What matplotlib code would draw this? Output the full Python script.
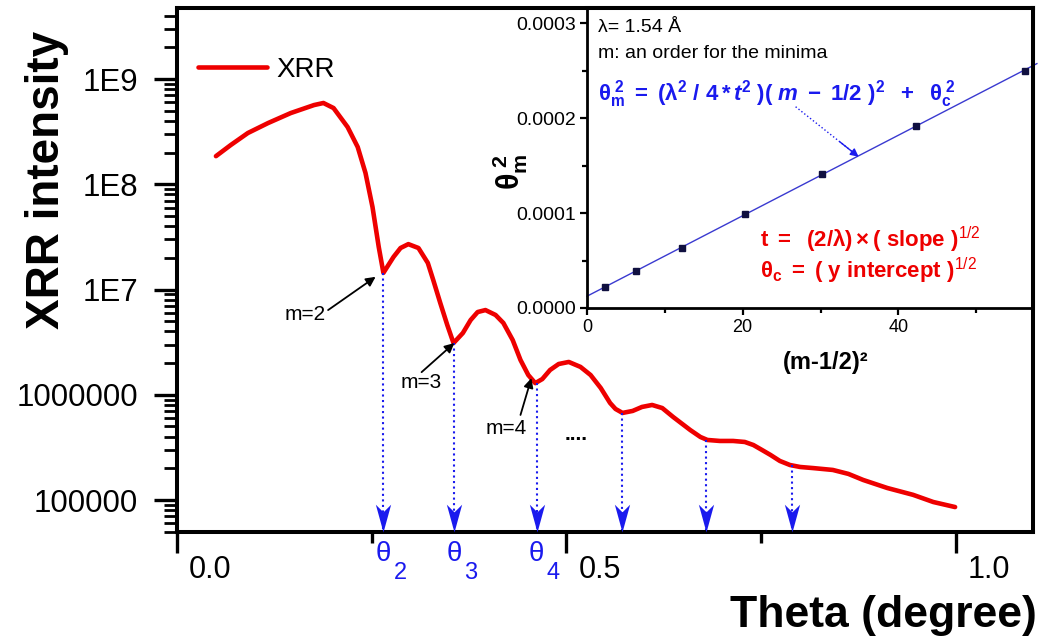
import numpy as np
import matplotlib
matplotlib.use('Agg')
import matplotlib.pyplot as plt
from matplotlib.path import Path
from matplotlib.ticker import MultipleLocator, NullFormatter, FormatStrFormatter
from matplotlib.transforms import ScaledTranslation, offset_copy

plt.rcParams['font.family'] = ['Liberation Sans', 'DejaVu Sans']
plt.rcParams['mathtext.fontset'] = 'custom'
plt.rcParams['mathtext.rm'] = 'Liberation Sans'
plt.rcParams['mathtext.it'] = 'Liberation Sans:italic'
plt.rcParams['mathtext.bf'] = 'Liberation Sans:bold'
plt.rcParams['mathtext.bfit'] = 'Liberation Sans:italic:bold'

# XRR curve
theta = [0.050, 0.069, 0.091, 0.117, 0.146, 0.176, 0.188, 0.201, 0.219, 0.232,
         0.242, 0.251, 0.259, 0.265, 0.278, 0.287, 0.297, 0.310, 0.322, 0.329,
         0.338, 0.347, 0.355, 0.367, 0.377, 0.386, 0.396, 0.409, 0.419, 0.431,
         0.441, 0.451, 0.460, 0.469, 0.479, 0.490, 0.503, 0.518, 0.531, 0.544,
         0.556, 0.563, 0.572, 0.585, 0.597, 0.610, 0.623, 0.637, 0.659, 0.672,
         0.681, 0.697, 0.714, 0.729, 0.740, 0.751, 0.762, 0.774, 0.787, 0.800,
         0.817, 0.842, 0.862, 0.881, 0.912, 0.945, 0.971, 0.999]
intensity = [1.85e8, 2.36e8, 3.07e8, 3.82e8, 4.75e8, 5.66e8, 5.92e8, 5.30e8, 3.50e8, 2.26e8,
             1.28e8, 6.08e7, 2.54e7, 1.44e7, 2.04e7, 2.48e7, 2.70e7, 2.48e7, 1.79e7, 1.23e7,
             7.45e6, 4.60e6, 3.10e6, 3.86e6, 5.13e6, 6.11e6, 6.38e6, 5.73e6, 4.81e6, 3.31e6,
             2.14e6, 1.54e6, 1.29e6, 1.41e6, 1.72e6, 1.96e6, 2.05e6, 1.84e6, 1.54e6, 1.16e6,
             8.36e5, 7.33e5, 6.72e5, 7.02e5, 7.66e5, 8.00e5, 7.48e5, 6.15e5, 4.62e5, 3.97e5,
             3.72e5, 3.64e5, 3.64e5, 3.56e5, 3.33e5, 2.99e5, 2.68e5, 2.35e5, 2.15e5, 2.06e5,
             2.01e5, 1.93e5, 1.77e5, 1.55e5, 1.30e5, 1.12e5, 9.57e4, 8.57e4]

# minima of the fringes
min_theta = [0.265, 0.356, 0.462, 0.571, 0.679, 0.790]
min_int = [1.44e7, 3.10e6, 1.29e6, 6.72e5, 3.72e5, 2.15e5]
min_orders = ['2', '3', '4']

# order labels: text centre, arrow tail, arrow tip
m_labels = ['m=2', 'm=3', 'm=4']
m_text_xy = [(0.164, 5.73e6), (0.313, 1.32e6), (0.423, 4.83e5)]
m_tail_xy = [(0.194, 6.38e6), (0.314, 1.64e6), (0.441, 6.43e5)]
m_tip_xy = [(0.255, 1.32e7), (0.356, 3.10e6), (0.455, 1.44e6)]
dots_xy = (0.513, 4.15e5)

yticks = [1e5, 1e6, 1e7, 1e8, 1e9]
ytick_labels = ['100000', '1000000', '1E7', '1E8', '1E9']
xticks = [0.0, 0.5, 1.0]
xtick_labels = ['0.0', '0.5', '1.0']

# inset: theta_m^2 vs (m-1/2)^2
m_order_sq = [2.25, 6.25, 12.25, 20.25, 30.25, 42.25, 56.25]
theta_m_sq = [2.2e-5, 3.85e-5, 6.35e-5, 9.9e-5, 1.414e-4, 1.92e-4, 2.50e-4]
fit_x = [0, 57.8]
pointer_start = (26.8, 2.12e-4)
pointer_end = (34.9, 1.593e-4)

red = '#ee0000'
blue = '#1a1aee'

fig = plt.figure(figsize=(10.44, 6.41), dpi=100)
W, H = 1044, 641
ax = fig.add_axes([177 / W, 1 - 532 / H, (1033 - 177) / W, (532 - 8) / H])

ax.semilogy(theta, intensity, color=red, lw=3.3, label='XRR',
            solid_capstyle='round', solid_joinstyle='round')
ax.set_xlim(0, 1.099)
ax.set_ylim(10 ** 4.696, 10 ** 9.675)

for s in ax.spines.values():
    s.set_linewidth(2.9)

ax.set_yticks(yticks, ytick_labels)
ax.yaxis.set_minor_formatter(NullFormatter())
ax.set_xticks(xticks, xtick_labels)
ax.xaxis.set_minor_locator(MultipleLocator(0.25))
ax.tick_params(which='both', direction='out')
ax.tick_params(axis='y', which='major', length=16.5, width=2.4, pad=11.5, labelsize=22.5)
ax.tick_params(axis='y', which='minor', length=9.4, width=2)
ax.tick_params(axis='x', which='major', length=15, width=2.4, pad=1.5, labelsize=22)
ax.tick_params(axis='x', which='minor', length=8, width=2.4)
shift = ScaledTranslation(12 / 100, 0, fig.dpi_scale_trans)
for t in ax.xaxis.get_major_ticks():
    t.label1.set_horizontalalignment('left')
    t.label1.set_transform(t.label1.get_transform() + shift)

ax.legend(loc='center left', bbox_to_anchor=(198 / W, 1 - 70 / H),
          bbox_transform=fig.transFigure, frameon=False, fontsize=20,
          handlelength=2.5, handletextpad=0.32, borderpad=0, borderaxespad=0)

# dotted drop lines with arrow heads
head = Path([(0, 0), (-0.55, 2), (0, 1.45), (0.55, 2), (0, 0)],
            [Path.MOVETO, Path.LINETO, Path.LINETO, Path.LINETO, Path.CLOSEPOLY])
ybot = ax.get_ylim()[0]
for x0, y0 in zip(min_theta, min_int):
    ax.plot([x0, x0], [y0, ybot], ls=':', color=blue, lw=1.5)
    ax.plot([x0], [ybot], marker=head, ms=40, color=blue, mew=0, clip_on=False, zorder=4)

# theta_m labels under the axis
th_tr = offset_copy(ax.get_xaxis_transform(), fig=fig, x=-8, y=0, units='dots')
sub_tr = offset_copy(ax.get_xaxis_transform(), fig=fig, x=10, y=0, units='dots')
for x0, order in zip(min_theta, min_orders):
    ax.text(x0, -0.018, 'θ', transform=th_tr, ha='left', va='top', color=blue, fontsize=20)
    ax.text(x0, -0.057, order, transform=sub_tr, ha='left', va='top', color=blue, fontsize=17)

for lab, txy, tail, tip in zip(m_labels, m_text_xy, m_tail_xy, m_tip_xy):
    ax.text(txy[0], txy[1], lab, ha='center', va='center', fontsize=15)
    ax.annotate('', xy=tip, xytext=tail,
                arrowprops=dict(arrowstyle='-|>', color='black', lw=1.3,
                                mutation_scale=14, shrinkA=0, shrinkB=0))
ax.text(dots_xy[0], dots_xy[1], '....', ha='center', va='center', fontsize=15, fontweight='bold')

fig.text(47 / W, 1 - 180 / H, 'XRR intensity', rotation=90, fontsize=33,
         fontweight='bold', ha='center', va='center')
fig.text(1037 / W, 1 - 627 / H, 'Theta (degree)', fontsize=32, fontweight='bold',
         ha='right', va='baseline')

# inset
ins = fig.add_axes([587 / W, 1 - 308 / H, (1033 - 587) / W, (308 - 8) / H])
ins.plot(m_order_sq, theta_m_sq, 's', color='#101040', ms=5, zorder=3)
slope, icpt = np.polyfit(m_order_sq, theta_m_sq, 1)
fx = np.array(fit_x)
ins.plot(fx, slope * fx + icpt, color='#3a3ad0', lw=1, clip_on=False)
ins.set_xlim(0, 57.3)
ins.set_ylim(0, 0.000316)
ins.set_xticks([0, 20, 40])
ins.xaxis.set_minor_locator(MultipleLocator(10))
ins.set_yticks([0, 1e-4, 2e-4, 3e-4])
ins.yaxis.set_minor_locator(MultipleLocator(5e-5))
ins.yaxis.set_major_formatter(FormatStrFormatter('%.4f'))
ins.tick_params(which='both', direction='out', width=1.6)
ins.tick_params(which='major', length=5, pad=3)
ins.tick_params(which='minor', length=3.5)
ins.tick_params(axis='x', labelsize=13)
ins.tick_params(axis='y', labelsize=14)
ins.spines['left'].set_linewidth(2)
ins.spines['bottom'].set_linewidth(2)
ins.spines['top'].set_linewidth(2.9)
ins.spines['right'].set_linewidth(2.9)

px, py = pointer_start
ex, ey = pointer_end
ins.plot([px, ex], [py, ey], ls=':', color=blue, lw=1)
ins.annotate('', xy=pointer_end, xytext=(px + 0.7 * (ex - px), py + 0.7 * (ey - py)),
             arrowprops=dict(arrowstyle='-|>', color=blue, lw=1,
                             mutation_scale=12, shrinkA=0, shrinkB=0))

fig.text(510 / W, 1 - 172 / H, r'$\mathbf{\theta_m^{\ 2}}$', rotation=90, fontsize=22,
         ha='center', va='center')
fig.text(826 / W, 1 - 362 / H, '(m-1/2)²', fontsize=17, fontweight='bold',
         ha='center', va='center')

fig.text(598 / W, 1 - 28 / H, 'λ= 1.54 Å', fontsize=14, va='center')
fig.text(598 / W, 1 - 53 / H, 'm: an order for the minima', fontsize=14, va='center')
formula = (r'$\mathbf{\theta_m^{\ 2}\ =\ (\lambda^2\ /\ 4*}\mathbfit{t}^{\mathbf{2}}'
           r'\mathbf{\ )(\ }\mathbfit{m}\mathbf{\ -\ 1/2\ )^2\ \ +\ \ \theta_c^{\ 2}}$')
fig.text(598 / W, 1 - 101 / H, formula, color=blue, fontsize=16, va='baseline')
fig.text(760 / W, 1 - 247 / H, r'$\mathbf{t\ =\ \ (2/\lambda)\times(\ slope\ )}^{1/2}$',
         color=red, fontsize=16, va='baseline')
fig.text(760 / W, 1 - 278 / H, r'$\mathbf{\theta_c\ =\ (\ y\ intercept\ )}^{1/2}$',
         color=red, fontsize=16, va='baseline')

fig.savefig('out.png', dpi=100)
